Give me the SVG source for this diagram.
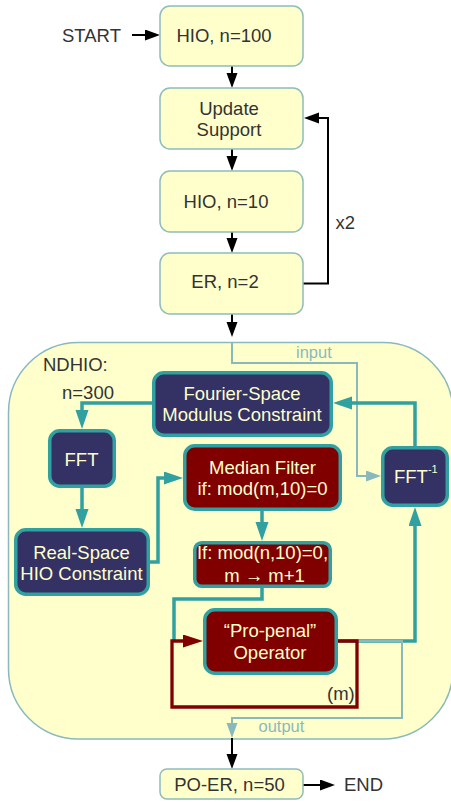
<svg xmlns="http://www.w3.org/2000/svg" width="451" height="802" viewBox="0 0 451 802">
<style>
text{font-family:"Liberation Sans",Arial,sans-serif;font-size:18.5px;fill:#333333}
.c{text-anchor:middle}
.lt{fill:#ffffcc}
.sm{font-size:16.5px;fill:#8ab9bd}
.yb{fill:#ffffcc;stroke:#8fbcbc;stroke-width:1.5}
.db{fill:#343264;stroke:#30a0a0;stroke-width:3.5}
.rb{fill:#800000;stroke:#30a0a0;stroke-width:3.5}
.kb{fill:none;stroke:#000;stroke-width:2}
.tl{fill:none;stroke:#30a0a0;stroke-width:3.5}
.ll{fill:none;stroke:#8ab9bd;stroke-width:2}
.rl{fill:none;stroke:#800000;stroke-width:3.3}
</style>
<defs>
<marker id="aB" markerUnits="userSpaceOnUse" markerWidth="16" markerHeight="12" refX="0" refY="5.5" orient="auto"><path d="M0,0 L15,5.5 L0,11 z" fill="#000"/></marker>
<marker id="aT" markerUnits="userSpaceOnUse" markerWidth="20" markerHeight="14" refX="0" refY="6.5" orient="auto"><path d="M0,0 L19,6.5 L0,13 z" fill="#30a0a0"/></marker>
<marker id="aL" markerUnits="userSpaceOnUse" markerWidth="16" markerHeight="12" refX="0" refY="5.5" orient="auto"><path d="M0,0 L15,5.5 L0,11 z" fill="#8ab9bd"/></marker>
<marker id="aR" markerUnits="userSpaceOnUse" markerWidth="21" markerHeight="14" refX="0" refY="6.5" orient="auto"><path d="M0,0 L20,6.5 L0,13 z" fill="#800000"/></marker>
</defs>

<g id="ndhio">
<rect x="8.5" y="342.5" width="444.5" height="396.5" rx="70" fill="#ffffcc" stroke="#8ab9bd" stroke-width="1.5"/>
<text x="43" y="371">NDHIO:</text>
<text x="62" y="399">n=300</text>
</g>

<g id="connectors">
<text x="62" y="42">START</text>
<path class="kb" d="M132,35 H145" marker-end="url(#aB)"/>
<path class="kb" d="M232,66 V73" marker-end="url(#aB)"/>
<path class="kb" d="M232,149 V156" marker-end="url(#aB)"/>
<path class="kb" d="M232,232 V238" marker-end="url(#aB)"/>
<path class="kb" d="M303,283.5 H328 V118 H319" marker-end="url(#aB)"/>
<text x="335.5" y="229">x2</text>
<path class="kb" d="M232,314 V322" marker-end="url(#aB)"/>
<path class="kb" d="M232,738 V754" marker-end="url(#aB)"/>
<path class="kb" d="M303,785 H320" marker-end="url(#aB)"/>
<text x="344" y="791">END</text>

<path class="ll" d="M232,342 V363 H357 V476 H366" marker-end="url(#aL)"/>
<text class="sm" x="296" y="357.5">input</text>

<path class="tl" d="M152,403 H82 V410" marker-end="url(#aT)"/>
<path class="tl" d="M82,488 V509" marker-end="url(#aT)"/>
<path class="tl" d="M150,562 H158 V478 H164" marker-end="url(#aT)"/>
<path class="tl" d="M262,511 V522" marker-end="url(#aT)"/>
<path class="tl" d="M262,588 V599 H174 V641"/>
<path class="tl" d="M338,641 H415 V526" marker-end="url(#aT)"/>
<path class="tl" d="M415,446 V403 H352" marker-end="url(#aT)"/>

<path class="ll" d="M338,641 H402 V718 H232 V723" marker-end="url(#aL)"/>
<text class="sm" x="258.5" y="731.5">output</text>

<path class="rl" d="M338,641 H357 V707 H172 V641 H183" marker-end="url(#aR)"/>
<text x="327" y="700">(m)</text>
</g>

<g id="hio100"><rect class="yb" x="160" y="6" width="143" height="60" rx="10"/><text class="c" x="224" y="42">HIO, n=100</text></g>
<g id="update"><rect class="yb" x="160" y="88" width="143" height="61" rx="10"/><text class="c" x="229" y="115">Update</text><text class="c" x="229" y="136">Support</text></g>
<g id="hio10"><rect class="yb" x="160" y="171" width="143" height="61" rx="10"/><text class="c" x="226" y="208">HIO, n=10</text></g>
<g id="er"><rect class="yb" x="160" y="253" width="143" height="61" rx="10"/><text class="c" x="225" y="288">ER, n=2</text></g>
<g id="poer"><rect class="yb" x="160" y="769" width="143" height="30" rx="7"/><text class="c" x="229.5" y="791">PO-ER, n=50</text></g>

<g id="fourier"><rect class="db" x="153.75" y="372.75" width="177.5" height="62.5" rx="10"/><text class="c lt" x="242" y="400">Fourier-Space</text><text class="c lt" x="242" y="421">Modulus Constraint</text></g>
<g id="fft"><rect class="db" x="49.75" y="430.75" width="64.5" height="55.5" rx="10"/><text class="c lt" x="81.5" y="466">FFT</text></g>
<g id="median"><rect class="rb" x="184.75" y="445.75" width="155.5" height="63.5" rx="10"/><text class="c lt" x="262.5" y="473.5">Median Filter</text><text class="c lt" x="262.5" y="495">if: mod(m,10)=0</text></g>
<g id="ifft"><rect class="db" x="382.75" y="447.75" width="64.5" height="57.5" rx="10"/><text class="lt" x="394" y="482.5">FFT<tspan font-size="11" dy="-10">-1</tspan></text></g>
<g id="realspace"><rect class="db" x="15.75" y="529.75" width="132.5" height="64.5" rx="10"/><text class="c lt" x="81.5" y="559">Real-Space</text><text class="c lt" x="81.5" y="580">HIO Constraint</text></g>
<g id="ifmod"><rect class="rb" x="194.75" y="542.75" width="135.5" height="43.5" rx="7"/><text class="c lt" x="262.5" y="559">If: mod(n,10)=0,</text><text class="c lt" x="264.5" y="581.5">m → m+1</text></g>
<g id="propenal"><rect class="rb" x="204.75" y="609.75" width="131.5" height="63.5" rx="10"/><text class="c lt" x="270" y="637">“Pro-penal”</text><text class="c lt" x="270" y="658.5">Operator</text></g>
</svg>
